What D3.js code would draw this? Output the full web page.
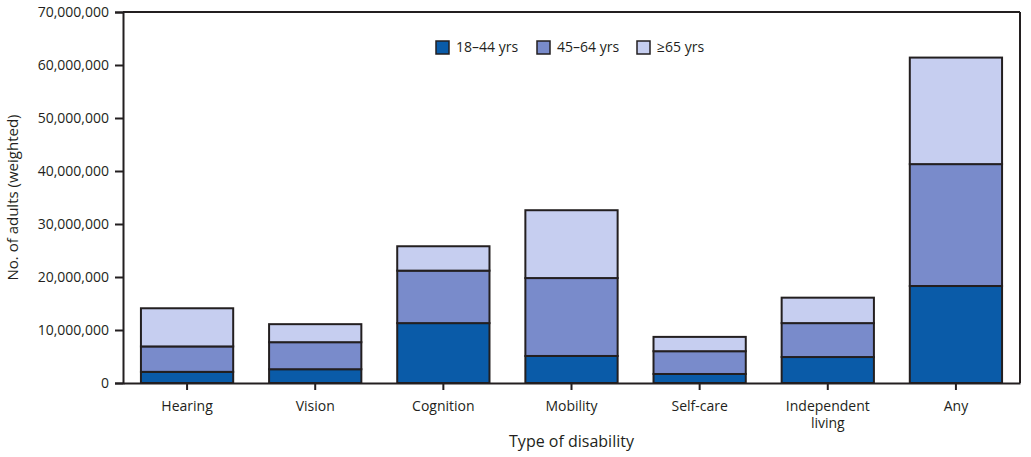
<!DOCTYPE html>
<html>
<head>
<meta charset="utf-8">
<script src="https://cdn.jsdelivr.net/npm/d3@7"></script>
<style>
  body { margin: 0; background: #fff; }
  text { font-family: "Open Sans", sans-serif; fill: #231f20; }
</style>
</head>
<body>
<div id="chart"></div>
<script>
// disability types along the x axis
const categories = ["Hearing", "Vision", "Cognition", "Mobility", "Self-care", "Independent living", "Any"];
const ageGroups = ["18–44 yrs", "45–64 yrs", "≥65 yrs"];
// weighted counts
const age18to44 = [2100000, 2600000, 11300000, 5100000, 1700000, 4900000, 18300000];
const age45to64 = [4800000, 5100000, 9900000, 14700000, 4300000, 6400000, 23000000];
const age65plus = [7200000, 3400000, 4600000, 12800000, 2700000, 4800000, 20100000];
const yTicks = [0, 10000000, 20000000, 30000000, 40000000, 50000000, 60000000, 70000000];

const colors = ["#0a5ba8", "#798bcb", "#c6cef0"];
const width = 1031, height = 457;
const mLeft = 123, mRight = 1020, mTop = 12, mBottom = 383;

const svg = d3.select("#chart").append("svg")
  .attr("width", width)
  .attr("height", height);

const rows = categories.map((c, i) => ({
  name: c, "18–44 yrs": age18to44[i], "45–64 yrs": age45to64[i], "≥65 yrs": age65plus[i]
}));
const series = d3.stack().keys(ageGroups)(rows);

const x = d3.scaleBand().domain(categories).range([mLeft, mRight])
  .paddingInner(0.28).paddingOuter(0.14);
const y = d3.scaleLinear().domain([0, 70000000]).range([mBottom, mTop]);

// bars
svg.append("g").selectAll("g")
  .data(series)
  .enter().append("g")
  .attr("fill", (d, i) => colors[i])
  .selectAll("rect")
  .data(d => d)
  .enter().append("rect")
  .attr("x", d => x(d.data.name))
  .attr("y", d => y(d[1]))
  .attr("width", x.bandwidth())
  .attr("height", d => y(d[0]) - y(d[1]))
  .attr("stroke", "#231f20")
  .attr("stroke-width", 2);

// frame top and right
svg.append("line").attr("x1", mLeft).attr("x2", mRight).attr("y1", mTop).attr("y2", mTop)
  .attr("stroke", "#231f20").attr("stroke-width", 2);
svg.append("line").attr("x1", mRight).attr("x2", mRight).attr("y1", mTop).attr("y2", mBottom)
  .attr("stroke", "#231f20").attr("stroke-width", 2);

// y axis
const yAxis = svg.append("g")
  .attr("transform", `translate(${mLeft},0)`)
  .call(d3.axisLeft(y).tickValues(yTicks).tickSize(8).tickPadding(6).tickFormat(d3.format(",")));
yAxis.select(".domain").attr("stroke", "#231f20").attr("stroke-width", 2);
yAxis.selectAll(".tick line").attr("stroke", "#231f20").attr("stroke-width", 2);
yAxis.selectAll(".tick text").style("font-size", "14px").attr("fill", "#231f20");

// x axis
const xAxis = svg.append("g")
  .attr("transform", `translate(0,${mBottom})`)
  .call(d3.axisBottom(x).tickSize(7).tickSizeOuter(0).tickPadding(12).tickFormat(""));
xAxis.select(".domain").attr("stroke", "#231f20").attr("stroke-width", 2);
xAxis.selectAll(".tick line").attr("stroke", "#231f20").attr("stroke-width", 2);
xAxis.selectAll(".tick").each(function (d) {
  const lines = d === "Independent living" ? ["Independent", "living"] : [d];
  const t = d3.select(this).append("text")
    .attr("text-anchor", "middle")
    .attr("y", 28)
    .style("font-size", "14px");
  lines.forEach((l, k) => t.append("tspan").attr("x", 0).attr("dy", k ? 17 : 0).text(l));
});

// axis titles
svg.append("text")
  .attr("x", (mLeft + mRight) / 2).attr("y", 447)
  .attr("text-anchor", "middle")
  .style("font-size", "16px")
  .text("Type of disability");
svg.append("text")
  .attr("transform", `translate(18,${(mTop + mBottom) / 2}) rotate(-90)`)
  .attr("text-anchor", "middle")
  .style("font-size", "15px")
  .text("No. of adults (weighted)");

// legend
const legend = svg.append("g").selectAll("g")
  .data(ageGroups)
  .enter().append("g")
  .attr("transform", (d, i) => `translate(${[436, 537, 637][i]},41)`);
legend.append("rect")
  .attr("width", 13).attr("height", 13)
  .attr("fill", (d, i) => colors[i])
  .attr("stroke", "#231f20").attr("stroke-width", 1.5);
legend.append("text")
  .attr("x", 20).attr("y", 11)
  .style("font-size", "14px")
  .text(d => d);
</script>
</body>
</html>
